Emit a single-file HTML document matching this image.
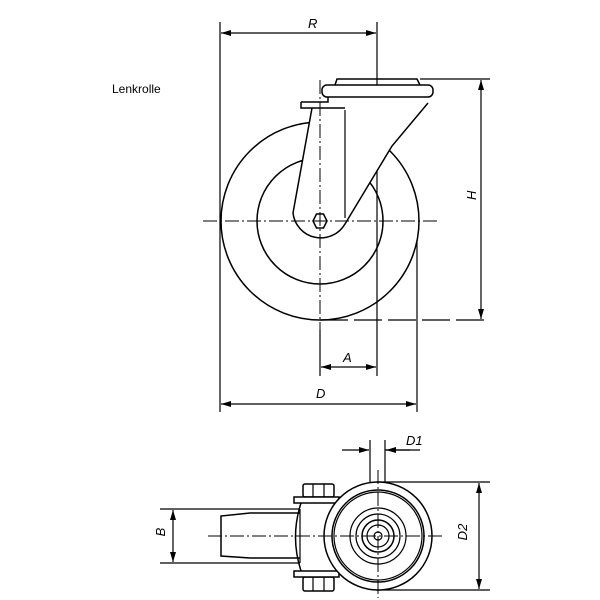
<!DOCTYPE html>
<html><head><style>body{margin:0;background:#fff}svg{display:block}</style></head><body>
<svg width="600" height="600" viewBox="0 0 600 600" xmlns="http://www.w3.org/2000/svg" font-family="Liberation Sans, sans-serif">
<defs>
<marker id="a" viewBox="0 0 10 6" refX="10" refY="3" markerWidth="10" markerHeight="6" orient="auto-start-reverse" markerUnits="userSpaceOnUse"><path d="M0,0L10,3L0,6z" fill="#000"/></marker>
</defs>
<g stroke="#000" fill="none" stroke-width="1.2">
<line x1="220" y1="22" x2="220" y2="412"/>
<line x1="377" y1="22" x2="377" y2="376"/>
<line x1="417" y1="240" x2="417" y2="412"/>
<line x1="320" y1="330" x2="320" y2="376"/>
<line x1="420" y1="79" x2="490" y2="79"/>
<line x1="320" y1="320" x2="490" y2="320" stroke-dasharray="28,6"/>
<line x1="221" y1="33" x2="376" y2="33" marker-start="url(#a)" marker-end="url(#a)"/>
<line x1="481" y1="80" x2="481" y2="319" marker-start="url(#a)" marker-end="url(#a)"/>
<line x1="321" y1="367" x2="376" y2="367" marker-start="url(#a)" marker-end="url(#a)"/>
<line x1="221" y1="404" x2="416" y2="404" marker-start="url(#a)" marker-end="url(#a)"/>
<!-- wheel -->
<circle cx="320" cy="221" r="99" stroke-width="1.5"/>
<circle cx="320" cy="221" r="63" stroke-width="1.5"/>
<!-- fork -->
<path d="M312,108 L293,213 A28,28 0 0 0 345,224 L392,146 L428,103 L428,97 L328,97 L328,108 Z" fill="#fff" stroke="none"/>
<path d="M312,108 L293,213 A28,28 0 0 0 345,224 L392,146 L428,103" stroke-width="1.5"/>
<line x1="345" y1="110" x2="345" y2="218"/>
<path d="M301,102 L328,102 L328,97 M301,102 L301,108 L345,108" stroke-width="1.5"/>
<rect x="322" y="85" width="111" height="12" rx="5" fill="#fff" stroke-width="1.5"/>
<path d="M335,85 L337,79 L417,79 L420,85" stroke-width="1.5"/>
<polygon points="313,221 316.5,214 323.5,214 327,221 323.5,228 316.5,228" fill="#fff" stroke-width="1.5"/>
<line x1="203" y1="221" x2="437" y2="221" stroke-width="1" stroke-dasharray="14,3,2,3"/>
<line x1="320" y1="80" x2="320" y2="335" stroke-width="1" stroke-dasharray="14,3,2,3"/>

<!-- bottom view -->
<line x1="160" y1="509" x2="300" y2="509"/>
<line x1="160" y1="563" x2="300" y2="563"/>
<line x1="173" y1="510" x2="173" y2="562" marker-start="url(#a)" marker-end="url(#a)"/>
<line x1="376" y1="482" x2="490" y2="482"/>
<line x1="376" y1="590" x2="490" y2="590"/>
<line x1="479" y1="483" x2="479" y2="589" marker-start="url(#a)" marker-end="url(#a)"/>
<line x1="370" y1="440" x2="370" y2="500"/>
<line x1="385" y1="440" x2="385" y2="500"/>
<line x1="342" y1="450" x2="369" y2="450" marker-end="url(#a)"/>
<line x1="410" y1="450" x2="386" y2="450" marker-end="url(#a)"/>
<line x1="385" y1="450" x2="420" y2="450"/>
<path d="M300,513 L250,513 L221,516 L221,556 L250,558 L300,558" stroke-width="1.5"/>
<line x1="300" y1="509" x2="300" y2="563"/>
<rect x="303" y="484" width="31" height="13" rx="2" fill="#fff" stroke-width="1.5"/>
<rect x="303" y="577" width="31" height="14" rx="2" fill="#fff" stroke-width="1.5"/>
<line x1="313" y1="484" x2="313" y2="497"/><line x1="324" y1="484" x2="324" y2="497"/>
<line x1="313" y1="577" x2="313" y2="591"/><line x1="324" y1="577" x2="324" y2="591"/>
<rect x="294" y="497" width="45" height="6" fill="#fff" stroke-width="1.5"/>
<rect x="294" y="571" width="45" height="6" fill="#fff" stroke-width="1.5"/>
<path d="M301,503 Q290,537 301,571" stroke-width="1.5"/>
<circle cx="378" cy="536" r="54" fill="#fff" stroke-width="1.5"/>
<circle cx="378" cy="536" r="46" stroke-width="1.5"/>
<circle cx="378" cy="536" r="44" stroke-width="1.2"/>
<circle cx="378" cy="536" r="28" stroke-width="1.2"/>
<circle cx="378" cy="536" r="22" stroke-width="1.2"/>
<circle cx="378" cy="536" r="16" stroke-width="1.5"/>
<circle cx="378" cy="536" r="11" stroke-width="1.2"/>
<circle cx="378" cy="536" r="4" stroke-width="1.2"/>
<line x1="208" y1="536" x2="443" y2="536" stroke-width="1" stroke-dasharray="14,3,2,3"/>
<line x1="378" y1="470" x2="378" y2="598" stroke-width="1" stroke-dasharray="14,3,2,3"/>
</g>
<g font-size="13" font-style="italic" fill="#000">
<text x="308" y="28">R</text>
<text x="472" y="204" transform="rotate(-90 472 200)">H</text>
<text x="343" y="362">A</text>
<text x="316" y="398">D</text>
<text x="406" y="445">D1</text>
<text x="169" y="536" transform="rotate(-90 165 536)" text-anchor="middle">B</text>
<text x="471" y="536" transform="rotate(-90 467 536)" text-anchor="middle">D2</text>
</g>
<text x="112" y="93" font-size="12">Lenkrolle</text>
</svg>
</body></html>
